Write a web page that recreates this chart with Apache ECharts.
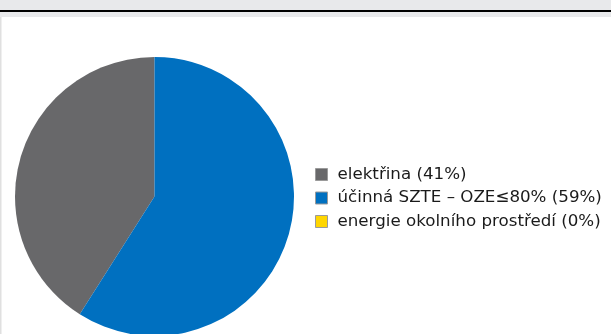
<!DOCTYPE html>
<html>
<head>
<meta charset="utf-8">
<script src="https://cdn.jsdelivr.net/npm/echarts@6/dist/echarts.min.js"></script>
<style>
html,body{margin:0;padding:0;background:#e8e9eb;}
#chart{width:611px;height:334px;}
</style>
</head>
<body>
<div id="chart"></div>
<script>
const categories = ['elektřina (41%)', 'účinná SZTE – OZE≤80% (59%)', 'energie okolního prostředí (0%)'];
const values = [41, 59, 0];
const colors = ['#68686a', '#0070c0', '#ffd600'];

const chart = echarts.init(document.getElementById('chart'), null, {renderer: 'canvas'});
chart.setOption({
  backgroundColor: '#e8e9eb',
  animation: false,
  graphic: [
    {type: 'rect', shape: {x: 0, y: 10, width: 611, height: 2}, style: {fill: '#000'}, z: 0},
    {type: 'rect', shape: {x: 0, y: 17, width: 611, height: 317}, style: {fill: '#ffffff'}, z: 0},
    {type: 'rect', shape: {x: 0, y: 17, width: 1.5, height: 317}, style: {fill: '#e0e0e0'}, z: 0}
  ],
  legend: {
    orient: 'vertical',
    left: 310,
    top: 161,
    itemWidth: 12,
    itemHeight: 12,
    itemGap: 6.5,
    icon: 'rect',
    selectedMode: false,
    data: categories,
    itemStyle: {borderColor: '#9a9a9a', borderWidth: 1},
    textStyle: {fontFamily: 'DejaVu Sans', fontSize: 16.7, color: '#1a1a1a', padding: [0, 0, 0, 5]}
  },
  series: [{
    type: 'pie',
    center: [154.5, 196.5],
    radius: 139.5,
    startAngle: 90,
    clockwise: false,
    label: {show: false},
    labelLine: {show: false},
    emphasis: {disabled: true},
    data: categories.map((c, i) => ({name: c, value: values[i], itemStyle: {color: colors[i]}}))
  }]
});
</script>
</body>
</html>
